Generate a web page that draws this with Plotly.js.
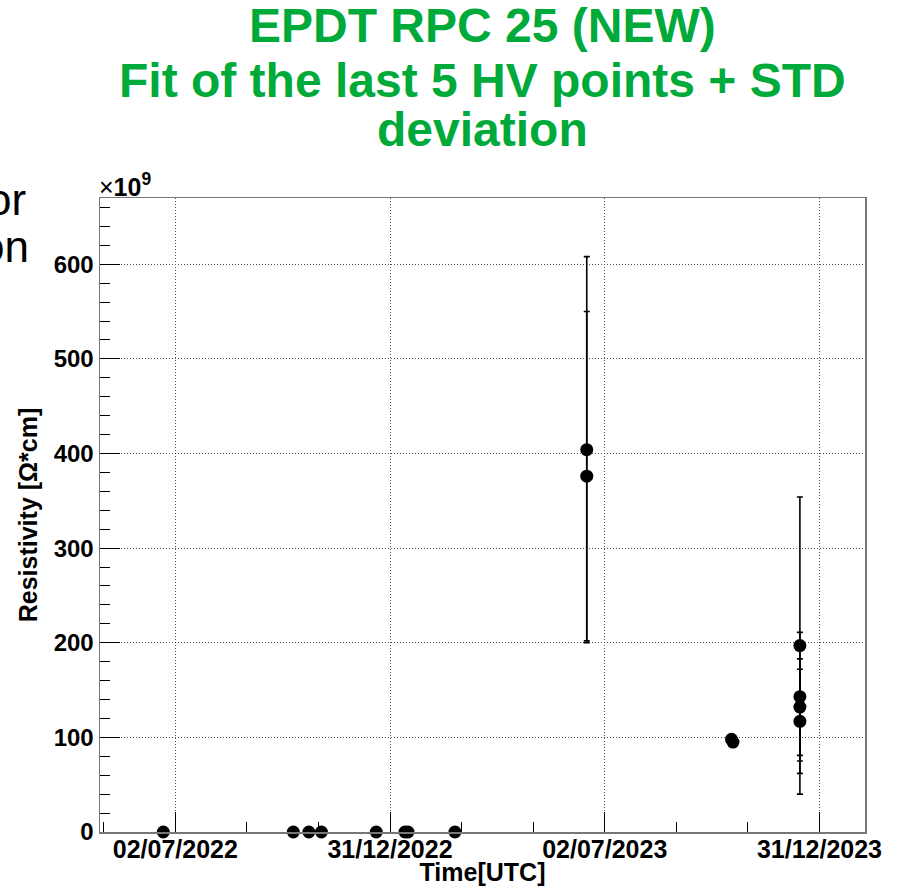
<!DOCTYPE html>
<html>
<head>
<meta charset="utf-8">
<script src="https://cdn.plot.ly/plotly-3.0.1.min.js"></script>
<style>
html,body{margin:0;padding:0;background:#fff;}
#chart{width:899px;height:886px;}
</style>
</head>
<body>
<div id="chart"></div>
<script>
// ---- data (resistivity in units of 1e9 Ohm*cm) ----
const times = [
  "2022-06-22 01:00", "2022-10-10 13:00", "2022-10-23 18:00", "2022-11-03 11:00",
  "2022-12-20 01:00", "2023-01-13 11:00", "2023-01-16 01:00", "2023-02-24 23:00",
  "2023-06-16 23:00", "2023-06-16 23:00",
  "2023-10-18 00:00", "2023-10-19 06:00",
  "2023-12-15 03:00", "2023-12-15 03:00", "2023-12-15 03:00", "2023-12-15 03:00"
];
const resistivity = [
  0, 0, 0, 0,
  0, 0, 0, 0,
  404, 376,
  98, 95,
  197, 143, 132, 117
];
const stdErr = [
  0, 0, 0, 0,
  0, 0, 0, 0,
  204, 174,
  2, 2,
  157, 68, 51, 55
];
const xTickVals = ["2022-07-02 06:00", "2022-12-31 18:00", "2023-07-02 06:00", "2023-12-31 18:00"];
const xTickLabels = ["02/07/2022", "31/12/2022", "02/07/2023", "31/12/2023"];
const yTickVals = [0, 100, 200, 300, 400, 500, 600];
const titleLines = ["EPDT RPC 25 (NEW)", "Fit of the last 5 HV points + STD", "deviation"];
const sideText = ["or", "on"];

const FONT = "Liberation Sans, Arial, Helvetica, sans-serif";
const GREEN = "#00aa3a";

const trace = {
  type: "scatter",
  mode: "markers",
  x: times,
  y: resistivity,
  marker: {color: "#000", size: 13},
  error_y: {type: "data", array: stdErr, visible: true, color: "#000", thickness: 1.6, width: 3},
  cliponaxis: false,
  hoverinfo: "x+y"
};

const annotations = [];
const titleY = [1.272, 1.186, 1.108];
titleLines.forEach((t, i) => annotations.push({
  text: "<b>" + t + "</b>", xref: "paper", yref: "paper", x: 0.5, y: titleY[i],
  xanchor: "center", yanchor: "middle", showarrow: false, borderpad: 0,
  font: {family: FONT, size: 48, color: GREEN}
}));
const sideX = [-0.094, -0.0905];
const sideY = [0.997, 0.923];
sideText.forEach((t, i) => annotations.push({
  text: t, xref: "paper", yref: "paper", x: sideX[i], y: sideY[i],
  xanchor: "right", yanchor: "middle", showarrow: false,
  font: {family: FONT, size: 44, color: "#000"}
}));
annotations.push({
  text: "×<b>10<sup>9</sup></b>", xref: "paper", yref: "paper", x: -0.004, y: 1.0,
  xanchor: "left", yanchor: "bottom", showarrow: false, yshift: -5,
  font: {family: FONT, size: 25, color: "#000"}
});

const layout = {
  width: 899, height: 886,
  margin: {l: 100, r: 34, t: 198, b: 54},
  paper_bgcolor: "#fff", plot_bgcolor: "#fff",
  showlegend: false,
  font: {family: FONT, color: "#000"},
  xaxis: {
    type: "date",
    range: ["2022-04-29 06:00", "2024-02-08 11:00"],
    tickmode: "array", tickvals: xTickVals, ticktext: xTickLabels,
    ticks: "inside", ticklen: 20, tickwidth: 1, tickcolor: "#000",
    ticklabelstandoff: -6,
    tickfont: {family: FONT, size: 25, color: "#000", weight: "bold"},
    showgrid: true, gridcolor: "#555", griddash: "1px,2px", gridwidth: 1,
    minor: {tick0: "2022-07-02 06:00", dtick: 5256000000, ticks: "inside", ticklen: 10, tickcolor: "#000", showgrid: false},
    showline: true, linecolor: "#777", linewidth: 1.5, mirror: true,
    zeroline: false,
    title: {text: "<b>Time[UTC]</b>", font: {family: FONT, size: 25, color: "#000"}, standoff: 2}
  },
  yaxis: {
    range: [0, 670],
    tickmode: "array", tickvals: yTickVals,
    ticks: "inside", ticklen: 20, tickwidth: 1, tickcolor: "#000",
    tickfont: {family: FONT, size: 24, color: "#000", weight: "bold"},
    showgrid: true, gridcolor: "#555", griddash: "1px,2px", gridwidth: 1,
    minor: {dtick: 20, ticks: "inside", ticklen: 10, tickcolor: "#000", showgrid: false},
    showline: true, linecolor: "#777", linewidth: 1.5, mirror: true,
    zeroline: false,
    title: {text: "<b>Resistivity [Ω*cm]</b>", font: {family: FONT, size: 25, color: "#000"}, standoff: 9}
  },
  annotations: annotations
};

Plotly.newPlot("chart", [trace], layout, {displayModeBar: false, staticPlot: true});
</script>
</body>
</html>
